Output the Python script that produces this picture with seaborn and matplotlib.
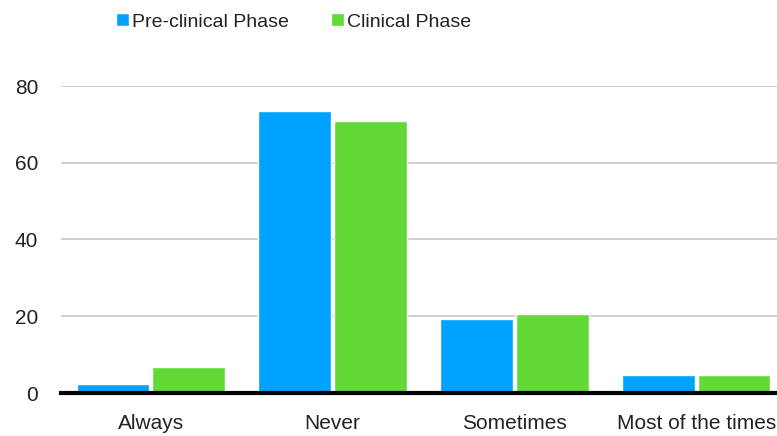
import matplotlib
matplotlib.use("Agg")
import matplotlib.pyplot as plt
import seaborn as sns
import pandas as pd

categories = ["Always", "Never", "Sometimes", "Most of the times"]
preclinical = [2.3, 73.4, 19.4, 4.6]
clinical = [6.8, 71.0, 20.7, 4.7]
series_names = ["Pre-clinical Phase", "Clinical Phase"]
yticks = [0, 20, 40, 60, 80]
colors = ["#00A2FF", "#62D937"]

df = pd.DataFrame({
    "category": categories * 2,
    "value": preclinical + clinical,
    "phase": [series_names[0]] * 4 + [series_names[1]] * 4,
})

sns.set_theme(style="white")
plt.rcParams["font.family"] = ["Liberation Sans Narrow", "Liberation Sans", "DejaVu Sans"]

fig = plt.figure(figsize=(7.77, 4.36), dpi=100)
ax = fig.add_axes([61 / 777, 1 - 393 / 436, 1 - 61 / 777, (393 - 86) / 436])

sns.barplot(data=df, x="category", y="value", hue="phase", order=categories,
            hue_order=series_names, palette=colors, width=0.835, gap=0.04,
            saturation=1, ax=ax, legend=True)

ax.set_xlim(-0.495, 3.445)
ax.set_ylim(0, 80)
ax.set_yticks(yticks)
ax.set_xlabel("")
ax.set_ylabel("")
ax.yaxis.grid(True, color="#c8c8c8", linewidth=1.2)
ax.set_axisbelow(True)
for s in ["top", "right", "left"]:
    ax.spines[s].set_visible(False)
ax.spines["bottom"].set_color("black")
ax.spines["bottom"].set_linewidth(3)
ax.spines["bottom"].set_zorder(5)
ax.tick_params(axis="y", length=0, pad=16.5, labelsize=15, labelcolor="#222222")
ax.tick_params(axis="x", length=0, pad=15, labelsize=15, labelcolor="#222222")

handles, labels = ax.get_legend_handles_labels()
ax.get_legend().remove()
fig.legend(handles, labels, loc="center left", bbox_to_anchor=(116 / 777, 1 - 22 / 436),
           ncol=2, frameon=False, fontsize=14, borderpad=0, borderaxespad=0,
           handlelength=0.65, handleheight=0.65, handletextpad=0.15,
           columnspacing=2.2, labelcolor="#222222")

fig.savefig("out.png", dpi=100)
